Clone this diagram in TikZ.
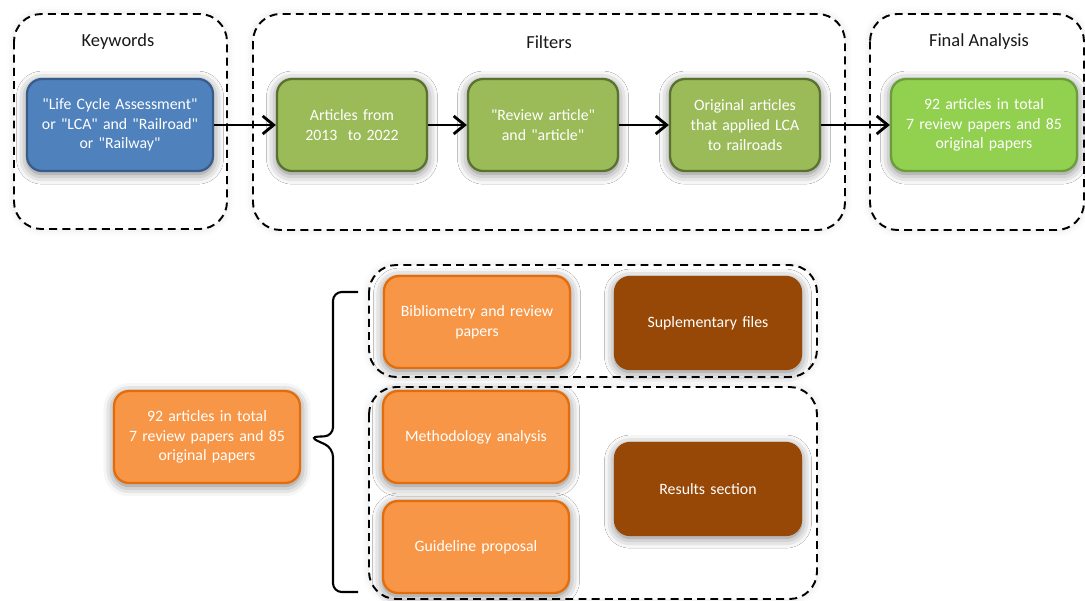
\documentclass[tikz,border=0pt]{standalone}
\usepackage{fontspec}
\setmainfont{Carlito}[Ligatures=TeXOff]
\usepackage{tikz}
\usetikzlibrary{arrows.meta}
\usetikzlibrary{shadows.blur}

\definecolor{kwblue}{HTML}{4F81BD}
\definecolor{kwblueline}{HTML}{385D8A}
\definecolor{filtgreen}{HTML}{9BBB59}
\definecolor{filtgreenline}{HTML}{5A7230}
\definecolor{finalgreen}{HTML}{92D050}
\definecolor{finalgreenline}{HTML}{6A9E3A}
\definecolor{resorange}{HTML}{F79646}
\definecolor{resorangeline}{HTML}{E46C0A}
\definecolor{resbrown}{HTML}{974806}

\begin{document}
\begin{tikzpicture}[
        x=0.02cm, y=-0.02cm,
        stepbox/.style={draw, line width=1.3pt, rounded corners=0.3cm,
            minimum height=1.84cm, align=center, text=white,
            font=\fontsize{9}{11.2}\selectfont,
            blur shadow={shadow xshift=0pt, shadow yshift=-1.5pt,
                shadow blur radius=6pt, shadow opacity=55}},
        kwbox/.style={stepbox, fill=kwblue, draw=kwblueline, minimum width=3.72cm, text width=3.45cm},
        filtbox/.style={stepbox, fill=filtgreen, draw=filtgreenline, minimum width=3cm, text width=2.75cm},
        finalbox/.style={stepbox, fill=finalgreen, draw=finalgreenline, minimum width=3.72cm, text width=3.45cm},
        orbox/.style={stepbox, fill=resorange, draw=resorangeline, minimum width=3.72cm, text width=3.45cm},
        brownbox/.style={stepbox, fill=resbrown, draw=resbrown, minimum width=3.72cm, text width=3.45cm},
        groupbox/.style={draw, dashed, line width=1.1pt, dash pattern=on 4.5pt off 3pt,
            rounded corners=0.55cm, fill=white,
            blur shadow={shadow xshift=0pt, shadow yshift=0pt,
                shadow blur radius=4pt, shadow opacity=12}},
        title/.style={font=\fontsize{10.5}{12}\selectfont, text=black!90},
        flow/.style={draw, line width=1.6pt, -{Straight Barb[length=2.2mm, width=3.6mm, line width=1.6pt]}},
        bracket/.style={draw, line width=1.2pt, rounded corners=5pt}
    ]

    \useasboundingbox (0,0) rectangle (1085,601);

    %=== Macro to place a dashed group ===%
    % #1 = left, #2 = top, #3 = right, #4 = bottom (px)
    \newcommand{\dashgroup}[4]{
        \draw[groupbox] (#1,#2) rectangle (#3,#4);
    }

    %=== Macro to place a box ===%
    % #1 = node name
    % #2 = x centre (px)
    % #3 = y centre (px)
    % #4 = style
    % #5 = text
    \newcommand{\placebox}[5]{
        \node[#4] (#1) at (#2,#3) {#5};
    }

    %=== Groups ===%
    \dashgroup{14}{14}{227}{229}
    \dashgroup{253}{14}{845}{230}
    \dashgroup{870}{14}{1084}{230}
    \dashgroup{369}{265}{817}{377}
    \dashgroup{369}{387}{817}{599}

    % Group titles
    \node[title] (kwtitle) at (118,42) {Keywords};
    \node[title] (filttitle) at (549,42) {Filters};
    \node[title] (finaltitle) at (979,42) {Final Analysis};

    %=== Search ===%
    \placebox{kw}{120}{125}{kwbox}{"Life Cycle Assessment"\\ or "LCA" and "Railroad"\\ or "Railway"}
    \placebox{years}{352}{125}{filtbox}{Articles from\\ 2013~ to 2022}
    \placebox{type}{543}{125}{filtbox}{"Review article"\\ and "article"}
    \placebox{orig}{745}{125}{filtbox}{Original articles\\ that applied LCA\\ to railroads}
    \placebox{final}{984}{125}{finalbox}{92 articles in total\\ 7 review papers and 85\\ original papers}

    \draw[flow] (kw) -- (years);
    \draw[flow] (years) -- (type);
    \draw[flow] (type) -- (orig);
    \draw[flow] (orig) -- (final);

    %=== Use of the articles ===%
    \placebox{total}{207}{437}{orbox}{92 articles in total\\ 7 review papers and 85\\ original papers}
    \placebox{biblio}{477}{322}{orbox}{Bibliometry and review\\ papers}
    \placebox{method}{476}{437}{orbox}{Methodology analysis}
    \placebox{guide}{476}{547}{orbox}{Guideline proposal}
    \placebox{supl}{708}{323}{brownbox}{Suplementary files}
    \placebox{results}{708}{489}{brownbox}{Results section}

    % Bracket
    \coordinate (tip) at ([xshift=0.16cm]total.east);
    \draw[bracket] (358,292) -- (333,292) -- (333,436) -- (tip) -- (333,448) -- (333,592) -- (358,592);

\end{tikzpicture}
\end{document}
